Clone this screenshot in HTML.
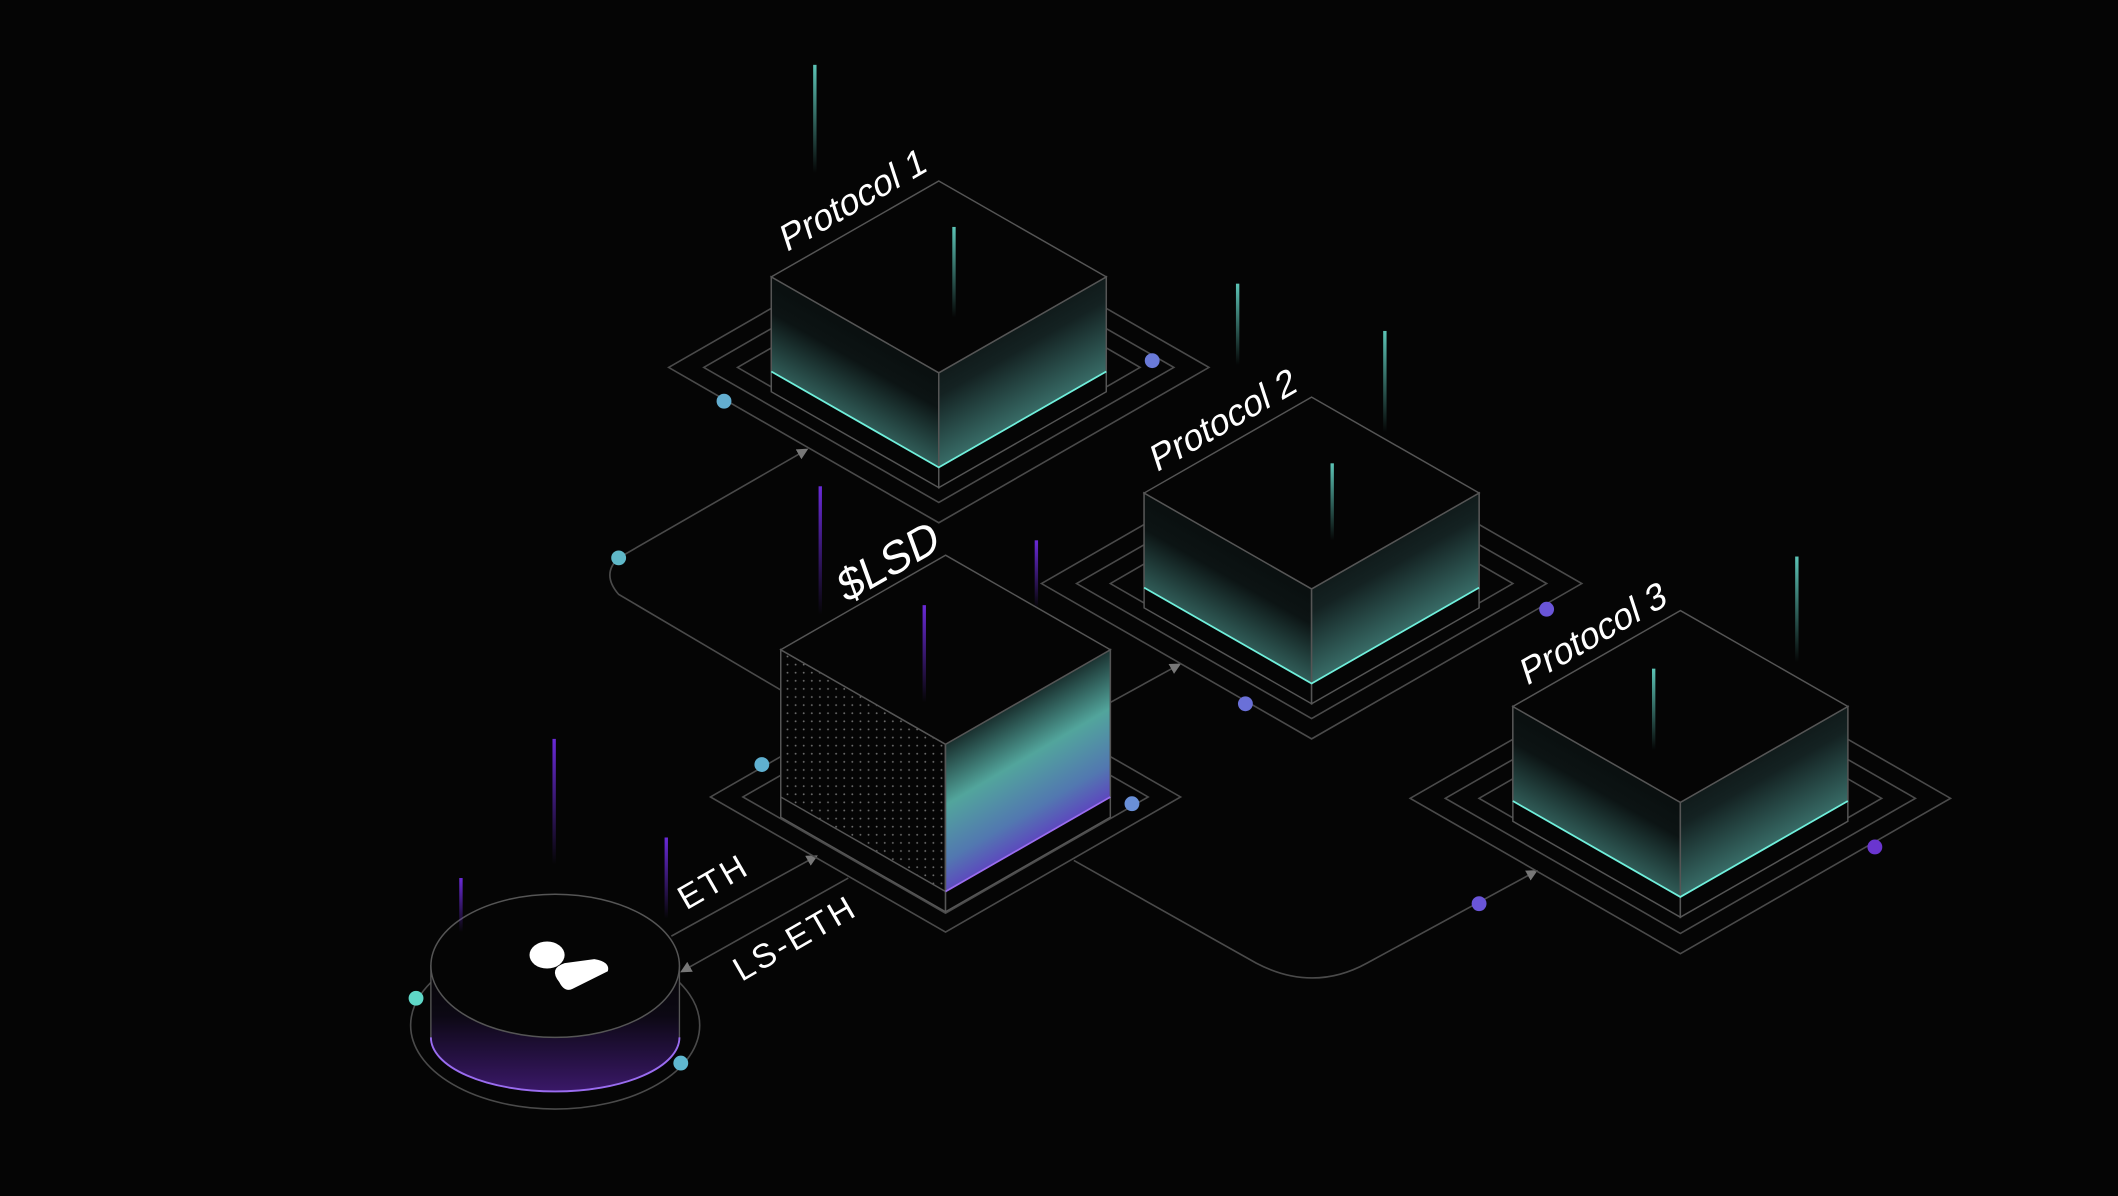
<!DOCTYPE html>
<html><head><meta charset="utf-8"><style>
html,body{margin:0;padding:0;background:#050505;overflow:hidden}
svg{display:block}
text{font-family:"Liberation Sans","DejaVu Sans",sans-serif;fill:#fff}
</style></head><body>
<svg width="2118" height="1196" viewBox="0 0 1568 885.4" preserveAspectRatio="none" xmlns="http://www.w3.org/2000/svg">
<defs>
<linearGradient id="gl" x1="0.75" y1="0" x2="0.25" y2="1"><stop offset="0" stop-color="#050505"/><stop offset="0.45" stop-color="#0c1414"/><stop offset="1" stop-color="#5cb3a9"/></linearGradient>
<linearGradient id="gr" x1="0.25" y1="0" x2="0.75" y2="1"><stop offset="0" stop-color="#050505"/><stop offset="0.4" stop-color="#142222"/><stop offset="1" stop-color="#5cb5ab"/></linearGradient>
<linearGradient id="glsd" x1="0.3" y1="0" x2="0.7" y2="1"><stop offset="0" stop-color="#050505"/><stop offset="0.2" stop-color="#101c1c"/><stop offset="0.45" stop-color="#52a59c"/><stop offset="0.65" stop-color="#5278b0"/><stop offset="0.85" stop-color="#6425c8"/><stop offset="1" stop-color="#6a20d0"/></linearGradient>
<linearGradient id="gcyl" x1="0" y1="0" x2="0" y2="1"><stop offset="0" stop-color="#050505"/><stop offset="0.4" stop-color="#0c0814"/><stop offset="1" stop-color="#3a1868"/></linearGradient>
<linearGradient id="st" x1="0" y1="0" x2="0" y2="1"><stop offset="0" stop-color="#5cc4b6"/><stop offset="1" stop-color="#5cc4b6" stop-opacity="0"/></linearGradient>
<linearGradient id="sp" x1="0" y1="0" x2="0" y2="1"><stop offset="0" stop-color="#6a2ad8"/><stop offset="1" stop-color="#6a2ad8" stop-opacity="0"/></linearGradient>
<pattern id="dots" width="6" height="6" patternUnits="userSpaceOnUse"><circle cx="3" cy="3" r="0.7" fill="#6a6a6a"/></pattern>
<marker id="ar" viewBox="0 0 10 10" refX="8" refY="5" markerWidth="7" markerHeight="7" orient="auto"><path d="M0,0 L10,5 L0,10 z" fill="#777"/></marker>
<g id="rings3" fill="none" stroke="#4a4a4a" stroke-width="1.2">
<polygon points="-200,0 0,-115 200,0 0,115"/>
<polygon points="-174,0 0,-100 174,0 0,100"/>
<polygon points="-149,0 0,-86 149,0 0,86"/>
</g>
<g id="cube" stroke="#555" stroke-width="1.1">
<polygon points="-124,71 0,142 0,227 -124,156" fill="#050505"/>
<polygon points="0,142 124,71 124,156 0,227" fill="#050505"/>
<polygon points="-124,71 0,142 0,212 -124,141" fill="url(#gl)"/>
<polygon points="0,142 124,71 124,141 0,212" fill="url(#gr)"/>
<polygon points="0,0 124,71 0,142 -124,71" fill="#050505"/>
<polyline points="-124,141 0,212 124,141" fill="none" stroke="#6ff0dc" stroke-width="1.3"/>
</g>
</defs>
<rect width="1568" height="886" fill="#050505"/>

<g fill="none" stroke="#4a4a4a" stroke-width="1.2">
<path d="M458,413 L597,333" marker-end="url(#ar)"/>
<path d="M458,413 Q445,425 458,440 L580,512"/>
<path d="M497,693 L604,634" marker-end="url(#ar)"/>
<path d="M628,650 L505,719" marker-end="url(#ar)"/>
<path d="M822,520 L873,492" marker-end="url(#ar)"/>
<path d="M795,637 L930,713 Q972,735 1012,713 L1137,645" marker-end="url(#ar)"/>
</g>

<use href="#rings3" x="695" y="272"/>
<use href="#rings3" x="971" y="432"/>
<use href="#rings3" x="1244" y="591"/>
<g fill="none" stroke="#4a4a4a" stroke-width="1.2" transform="translate(700,590)">
<polygon points="-174,0 0,-100 174,0 0,100"/>
<polygon points="-150,0 0,-86 150,0 0,86"/>
</g>

<use href="#cube" x="695" y="134"/>
<use href="#cube" x="971" y="294"/>
<use href="#cube" x="1244" y="452"/>

<g transform="translate(700,411)" stroke="#555" stroke-width="1.1">
<polygon points="-122,70 0,140 0,264 -122,194" fill="#050505"/>
<polygon points="0,140 122,70 122,194 0,264" fill="#050505"/>
<polygon points="-122,70 0,140 0,249 -122,179" fill="url(#dots)"/>
<polygon points="0,140 122,70 122,179 0,249" fill="url(#glsd)"/>
<polygon points="0,0 122,70 0,140 -122,70" fill="#050505"/>
<polyline points="0,249 122,179" fill="none" stroke="#9a6cf0" stroke-width="1.3"/>
</g>

<ellipse cx="411" cy="759" rx="107" ry="62" fill="none" stroke="#4a4a4a" stroke-width="1.2"/>
<path d="M319,715 L319,768 A92,40 0 0 0 503,768 L503,715 Z" fill="url(#gcyl)" stroke="#555" stroke-width="1"/>
<path d="M319,768 A92,40 0 0 0 503,768" fill="none" stroke="#9a6cf0" stroke-width="1.4"/>
<ellipse cx="411" cy="715" rx="92" ry="53" fill="#050505" stroke="#555" stroke-width="1.1"/>
<ellipse cx="405" cy="707" rx="13" ry="10" fill="#fff"/>
<path d="M414,727 Q406,717 418,713 L440,710 Q452,712 450,719 L424,732 Q418,735 414,727 Z" fill="#fff"/>

<g>
<rect x="602" y="48" width="2.5" height="80" fill="url(#st)"/>
<rect x="705" y="168" width="2.5" height="67" fill="url(#st)"/>
<rect x="915" y="210" width="2.5" height="60" fill="url(#st)"/>
<rect x="1024" y="245" width="2.5" height="75" fill="url(#st)"/>
<rect x="985" y="343" width="2.5" height="57" fill="url(#st)"/>
<rect x="1329" y="412" width="2.5" height="78" fill="url(#st)"/>
<rect x="1223" y="495" width="2.5" height="60" fill="url(#st)"/>
<rect x="606" y="360" width="2.5" height="95" fill="url(#sp)"/>
<rect x="766" y="400" width="2.5" height="50" fill="url(#sp)"/>
<rect x="683" y="448" width="2.5" height="72" fill="url(#sp)"/>
<rect x="409" y="547" width="2.5" height="93" fill="url(#sp)"/>
<rect x="340" y="650" width="2.5" height="40" fill="url(#sp)"/>
<rect x="492" y="620" width="2.5" height="60" fill="url(#sp)"/>
</g>

<circle cx="458" cy="413" r="5.5" fill="#5fb8c8"/>
<circle cx="536" cy="297" r="5.5" fill="#63aed0"/>
<circle cx="853" cy="267" r="5.5" fill="#6a7ad8"/>
<circle cx="922" cy="521" r="5.5" fill="#6a70d8"/>
<circle cx="1145" cy="451" r="5.5" fill="#6a55d8"/>
<circle cx="1095" cy="669" r="5.5" fill="#6a55d8"/>
<circle cx="1388" cy="627" r="5.5" fill="#6a35d0"/>
<circle cx="564" cy="566" r="5.5" fill="#5fb0d0"/>
<circle cx="838" cy="595" r="5.5" fill="#6a90d8"/>
<circle cx="308" cy="739" r="5.5" fill="#5fd8c8"/>
<circle cx="504" cy="787" r="5.5" fill="#5fb8d0"/>

<text transform="translate(582,187) rotate(-30) skewX(-12)" font-size="27">Protocol 1</text>
<text transform="translate(856,350) rotate(-30) skewX(-12)" font-size="27">Protocol 2</text>
<text transform="translate(1130,508) rotate(-30) skewX(-12)" font-size="27">Protocol 3</text>
<text transform="translate(626,447) rotate(-30) skewX(-10)" font-size="33">$LSD</text>
<text transform="translate(508,674) rotate(-30)" font-size="25" letter-spacing="2">ETH</text>
<text transform="translate(549,727) rotate(-30)" font-size="25" letter-spacing="2">LS-ETH</text>
</svg>
</body></html>
